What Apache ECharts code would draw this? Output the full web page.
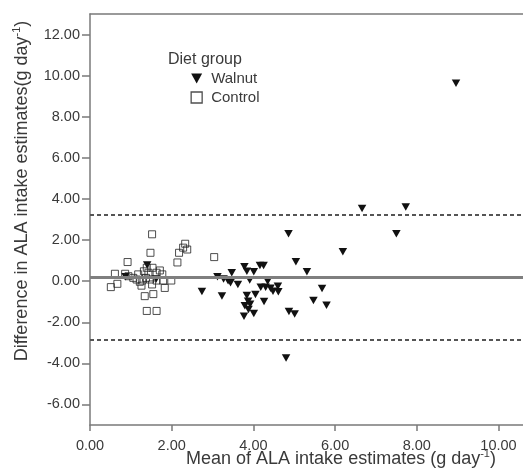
<!DOCTYPE html>
<html>
<head>
<meta charset="utf-8">
<script src="https://cdn.jsdelivr.net/npm/echarts@6/dist/echarts.min.js"></script>
<style>
html,body{margin:0;padding:0;background:#fff;}
#chart{width:523px;height:474px;}
</style>
</head>
<body>
<div id="chart"></div>
<script>
// ---- data ----
var walnutPoints = [
  [8.96, 9.63], [6.66, 3.54], [7.73, 3.61], [7.50, 2.31], [4.86, 2.31],
  [6.19, 1.43], [5.04, 0.94], [5.31, 0.46], [5.68, -0.36], [5.47, -0.94],
  [5.79, -1.17], [4.87, -1.48], [5.01, -1.60], [4.80, -3.74], [2.74, -0.50],
  [3.23, -0.72], [3.12, 0.22], [3.27, 0.10], [3.38, 0.02], [3.44, -0.08],
  [3.47, 0.41], [3.62, -0.16], [3.78, 0.70], [3.84, 0.48], [3.91, 0.06],
  [4.01, 0.46], [4.16, 0.76], [4.25, 0.76], [4.35, 0.0], [4.18, -0.30],
  [4.05, -0.65], [3.84, -0.70], [3.87, -0.98], [3.79, -1.20], [3.88, -1.38],
  [3.77, -1.71], [3.92, -1.12], [4.01, -1.58], [4.26, -0.99], [4.42, -0.35],
  [4.48, -0.49], [4.61, -0.52], [4.60, -0.25], [4.30, -0.30], [0.87, 0.22],
  [1.40, 0.78], [1.62, 0.10]
];
var controlPoints = [
  [0.51, -0.29], [0.67, -0.13], [0.61, 0.36], [0.92, 0.93], [0.86, 0.36],
  [0.94, 0.24], [1.06, 0.16], [1.14, 0.08], [1.22, -0.03], [1.26, -0.22],
  [1.39, 0.65], [1.43, 0.41], [1.37, 0.16], [1.47, 0.08], [1.53, 0.65],
  [1.63, 0.41], [1.71, 0.52], [1.77, 0.33], [1.79, 0.03], [1.63, 0.03],
  [1.52, -0.16], [1.83, -0.33], [1.99, 0.03], [1.34, -0.73], [1.55, -0.63],
  [1.39, -1.45], [1.63, -1.45], [1.52, 2.28], [1.48, 1.38], [2.14, 0.91],
  [2.18, 1.38], [2.28, 1.63], [2.33, 1.82], [2.38, 1.54], [3.04, 1.17],
  [1.18, 0.33], [1.28, 0.03], [1.32, 0.48]
];
var meanDiff = 0.19;
var limitsOfAgreement = [3.22, -2.84];
var xTicks = [0, 2, 4, 6, 8, 10];
var yTicks = [-6, -4, -2, 0, 2, 4, 6, 8, 10, 12];
var seriesNames = ['Walnut', 'Control'];
var legendTitle = 'Diet group';
var xTitle = 'Mean of ALA intake estimates (g day';
var yTitle = 'Difference in ALA intake estimates(g day';
var supText = '-1';

// ---- chart ----
var FONT = '"Liberation Sans", Arial, sans-serif';
var TXT = '#3a3a3a';
var AX = '#7a7a7a';
var chart = echarts.init(document.getElementById('chart'), null, {renderer: 'canvas'});

var fmt = function (v) { return Number(v).toFixed(2); };
var triPath = 'path://M0,0 L10,0 L5,9 Z';

var option = {
  backgroundColor: '#fff',
  animation: false,
  grid: {left: 90, top: 14, width: 433.5, height: 411, containLabel: false},
  xAxis: [{
    type: 'value', min: 0, max: 10.6, position: 'bottom',
    splitLine: {show: false},
    axisLine: {show: true, onZero: false, lineStyle: {color: AX, width: 1.5}},
    axisTick: {show: true, length: 6, customValues: xTicks, lineStyle: {color: AX, width: 1.5}},
    axisLabel: {customValues: xTicks, formatter: fmt, margin: 13, color: TXT, fontSize: 14.5, fontFamily: FONT, showMaxLabel: true}
  }, {
    type: 'value', min: 0, max: 10.6, position: 'top',
    splitLine: {show: false},
    axisLine: {show: true, onZero: false, lineStyle: {color: AX, width: 1.5}},
    axisTick: {show: false}, axisLabel: {show: false}
  }],
  yAxis: {
    type: 'value', min: -7, max: 13,
    splitLine: {show: false},
    axisLine: {show: true, onZero: false, lineStyle: {color: AX, width: 1.5}},
    axisTick: {show: true, length: 8, customValues: yTicks, lineStyle: {color: AX, width: 1.5}},
    axisLabel: {customValues: yTicks, formatter: fmt, margin: 10, color: TXT, fontSize: 14.5, fontFamily: FONT}
  },
  legend: {
    orient: 'vertical', left: 185.5, top: 66,
    itemWidth: 11, itemHeight: 11, itemGap: 4,
    textStyle: {color: TXT, fontSize: 15, fontFamily: FONT, lineHeight: 15, padding: [0, 0, 0, 4]},
    data: [
      {name: seriesNames[0], icon: triPath},
      {name: seriesNames[1], icon: 'rect', itemStyle: {borderWidth: 1.3}}
    ]
  },
  graphic: [
    {type: 'text', left: 168, top: 52,
     style: {text: legendTitle, fill: TXT, font: '16px ' + FONT}},
    {type: 'text', x: 341, y: 458,
     style: {text: '{m|' + xTitle + '}{s|' + supText + '}{m|)}', align: 'center', verticalAlign: 'middle',
       rich: {m: {fontSize: 18, fontFamily: FONT, fill: TXT, color: TXT, lineHeight: 20, verticalAlign: 'bottom'},
              s: {fontSize: 11, fontFamily: FONT, fill: TXT, color: TXT, lineHeight: 20, verticalAlign: 'top'}}}},
    {type: 'text', x: 21, y: 191, rotation: Math.PI / 2,
     style: {text: '{m|' + yTitle + '}{s|' + supText + '}{m|)}', align: 'center', verticalAlign: 'middle',
       rich: {m: {fontSize: 18, fontFamily: FONT, fill: TXT, color: TXT, lineHeight: 20, verticalAlign: 'bottom'},
              s: {fontSize: 11, fontFamily: FONT, fill: TXT, color: TXT, lineHeight: 20, verticalAlign: 'top'}}}}
  ],
  series: [
    {
      name: seriesNames[0], type: 'scatter',
      symbol: triPath, symbolSize: [8.5, 7.5],
      itemStyle: {color: '#111', opacity: 1},
      data: walnutPoints,
      z: 3,
      markLine: {
        silent: true, symbol: 'none', label: {show: false},
        data: [
          {yAxis: meanDiff, lineStyle: {color: '#7f7f7f', width: 3, type: 'solid'}},
          {yAxis: limitsOfAgreement[0], lineStyle: {color: '#555', width: 2, type: [4, 3]}},
          {yAxis: limitsOfAgreement[1], lineStyle: {color: '#555', width: 2, type: [4, 3]}}
        ]
      }
    },
    {
      name: seriesNames[1], type: 'scatter',
      symbol: 'rect', symbolSize: 7,
      itemStyle: {color: 'rgba(255,255,255,0)', borderColor: '#222', borderWidth: 1},
      data: controlPoints,
      z: 4
    }
  ]
};
chart.setOption(option);
</script>
</body>
</html>
